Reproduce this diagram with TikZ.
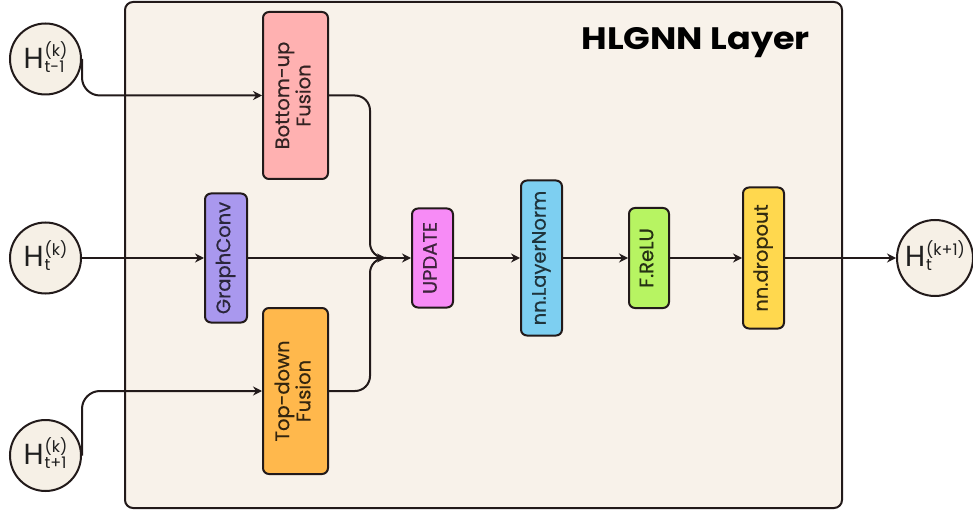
\documentclass[tikz,border=0pt]{standalone}
\usepackage{fontspec}
\usepackage{graphicx}
\setmainfont{Poppins}
\newfontfamily\boxfont{Poppins}[FakeBold=0.5]
\usetikzlibrary{arrows.meta}
\definecolor{cream}{HTML}{F8F2EA}
\definecolor{circfill}{HTML}{F6F0E6}
\definecolor{edge}{HTML}{221A1A}
\definecolor{cpink}{HTML}{FFB1B1}
\definecolor{cpurple}{HTML}{A998EE}
\definecolor{corange}{HTML}{FFB84C}
\definecolor{cmagenta}{HTML}{F78BF6}
\definecolor{cblue}{HTML}{7DCFF1}
\definecolor{cgreen}{HTML}{B7F462}
\definecolor{cyellow}{HTML}{FFD84E}
\newcommand{\Hlab}[2]{{\fontsize{29}{29}\selectfont H}\kern1pt\raisebox{-4pt}{\fontsize{16}{15.5}\selectfont\begin{tabular}[b]{@{}l@{}}#1\\#2\end{tabular}}}
\newcommand{\vtext}[1]{\rotatebox{90}{\begin{tabular}{@{}c@{}}#1\end{tabular}}}
\tikzset{
  opbox/.style={draw=edge, line width=2pt, rounded corners=6pt, inner sep=0pt,
    font=\boxfont\fontsize{19.5}{21}\selectfont},
  hcirc/.style={circle, draw=edge, line width=2pt, fill=circfill, inner sep=0pt, text=black!88},
  conn/.style={draw=edge, line width=2pt},
  arr/.style={conn, -{Stealth[length=9pt,width=9pt,inset=3pt]}},
}
\begin{document}
\begin{tikzpicture}[x=1pt,y=-1pt]
\useasboundingbox (0,0) rectangle (973,510);
% layer frame
\node[draw=edge, line width=2pt, fill=cream, rounded corners=8pt, minimum width=717pt, minimum height=506pt, inner sep=0pt] (frame) at (483.5,255) {};
\node[anchor=base east, inner sep=0pt, font=\fontsize{31}{31}\selectfont\bfseries] (title) at (810,50) {\scalebox{1.13}[1]{HLGNN Layer}};
% inputs / output
\node[hcirc, minimum size=71pt] (h1) at (45.5,59) {\Hlab{(k)}{t-1}};
\node[hcirc, minimum size=71pt] (h2) at (45.5,258) {\Hlab{(k)}{t}};
\node[hcirc, minimum size=71pt] (h3) at (45.5,455.5) {\Hlab{(k)}{t+1}};
\node[hcirc, minimum size=76pt] (out) at (935,258) {\Hlab{(k+1)}{t}};
% operation boxes
\node[opbox, fill=cpink, text=cpink!20!black, minimum width=65pt, minimum height=167pt] (bu) at (295.5,95.5) {\vtext{Bottom-up\\Fusion}};
\node[opbox, fill=cpurple, text=cpurple!25!black, minimum width=42pt, minimum height=129pt] (gc) at (226,258) {\vtext{GraphConv}};
\node[opbox, fill=corange, text=corange!20!black, minimum width=65pt, minimum height=166pt] (td) at (295.5,391) {\vtext{Top-down\\Fusion}};
\node[opbox, fill=cmagenta, text=cmagenta!25!black, minimum width=41pt, minimum height=99pt] (up) at (432.5,258) {\vtext{UPDATE}};
\node[opbox, fill=cblue, text=cblue!25!black, minimum width=41pt, minimum height=155pt] (ln) at (541.5,258) {\vtext{nn.LayerNorm}};
\node[opbox, fill=cgreen, text=cgreen!20!black, minimum width=40pt, minimum height=100pt] (re) at (649,258) {\vtext{F.ReLU}};
\node[opbox, fill=cyellow, text=cyellow!20!black, minimum width=41pt, minimum height=141pt] (dr) at (763.5,258) {\vtext{nn.dropout}};
% merge point
\coordinate (mx) at (370,258);
\coordinate (m) at (386,258);
% connectors
\draw[arr, rounded corners=18pt] (h1.east) |- (bu.west);
\draw[arr, rounded corners=18pt] (h3.east) |- (td.west);
\draw[arr] (h2.east) -- (gc.west);
\draw[conn, rounded corners=15pt] (bu.east) -| (mx) -- (m);
\draw[conn, rounded corners=15pt] (td.east) -| (mx) -- (m);
\draw[arr] (gc.east) -- (m);
\draw[arr] (m) -- (up.west);
\draw[arr] (up.east) -- (ln.west);
\draw[arr] (ln.east) -- (re.west);
\draw[arr] (re.east) -- (dr.west);
\draw[arr] (dr.east) -- (out.west);
\end{tikzpicture}
\end{document}
